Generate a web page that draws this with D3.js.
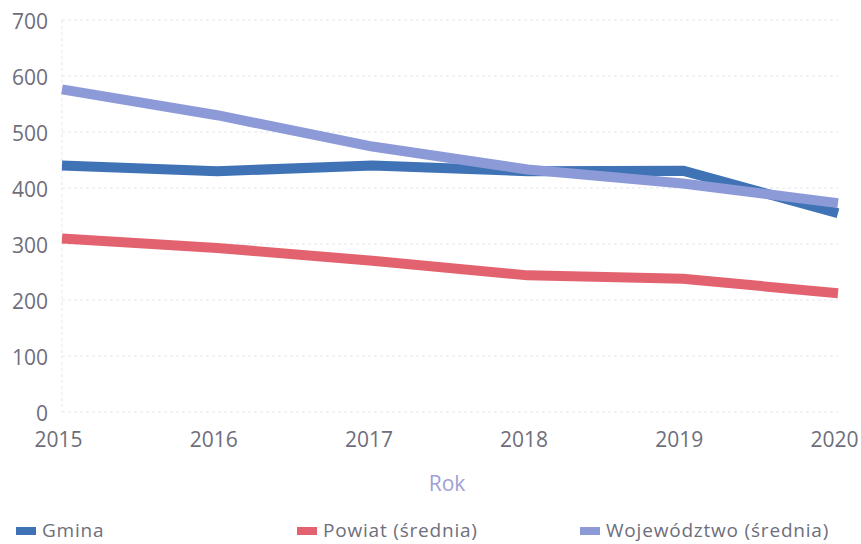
<!DOCTYPE html>
<html><head><meta charset="utf-8">
<script src="https://cdn.jsdelivr.net/npm/d3@7"></script>
<style>body{margin:0;background:#fff}svg{display:block}</style>
</head><body>
<svg id="c" width="861" height="544"></svg>
<script>
const years = [2015, 2016, 2017, 2018, 2019, 2020];
const gmina = [440, 430, 440, 430, 431, 355];
const powiat = [310, 293, 270, 244, 238, 212];
const wojewodztwo = [576, 530, 474, 433, 408, 373];
const yTicks = [0, 100, 200, 300, 400, 500, 600, 700];
const seriesNames = ["Gmina", "Powiat (średnia)", "Województwo (średnia)"];
const seriesColors = ["#3f73b5", "#e2636f", "#8d9ad8"];
const xTitle = "Rok";

const svg = d3.select("#c");
const font = "'Open Sans', sans-serif";
const textCol = "#6e6e7c";
const x = d3.scaleLinear().domain([2015, 2020]).range([62, 838]);
const y = d3.scaleLinear().domain([0, 700]).range([412, 20]);

// grid
svg.append("g").selectAll("line").data(yTicks).join("line")
  .attr("x1", 62).attr("x2", 838)
  .attr("y1", d => y(d)).attr("y2", d => y(d))
  .attr("stroke", "#e6e6ee").attr("stroke-width", 1).attr("stroke-dasharray", "3,3");
svg.append("line").attr("x1", 62).attr("x2", 62).attr("y1", y(700)).attr("y2", y(0))
  .attr("stroke", "#e6e6ee").attr("stroke-dasharray", "3,3");

// y axis
const ya = svg.append("g").attr("transform", "translate(48,2)")
  .call(d3.axisLeft(y).tickValues(yTicks).tickSize(0).tickPadding(0));
ya.select(".domain").remove();
ya.selectAll("text").attr("font-family", font).attr("font-size", 21).attr("fill", textCol);

// x axis
const xa = svg.append("g").attr("transform", "translate(-4,432)")
  .call(d3.axisBottom(x).tickValues(years).tickFormat(d3.format("d")).tickSize(0).tickPadding(0));
xa.select(".domain").remove();
xa.selectAll("text").attr("font-family", font).attr("font-size", 21).attr("fill", textCol);

svg.append("text").attr("x", 447).attr("y", 491).attr("text-anchor", "middle")
  .attr("font-family", font).attr("font-size", 21).attr("fill", "#9d9fd6").text(xTitle);

const data = [gmina, powiat, wojewodztwo];
const line = d3.line().x((d, i) => x(years[i])).y(d => y(d));
[0, 1, 2].forEach(k => {
  svg.append("path").datum(data[k]).attr("d", line)
    .attr("fill", "none").attr("stroke", seriesColors[k]).attr("stroke-width", 10)
    .attr("stroke-linejoin", "round");
});

// legend
const legX = [16, 297, 580];
const lg = svg.append("g");
seriesNames.forEach((n, i) => {
  lg.append("rect").attr("x", legX[i]).attr("y", 527).attr("width", 20).attr("height", 8)
    .attr("fill", seriesColors[i]);
  lg.append("text").attr("x", legX[i] + 26).attr("y", 537)
    .attr("font-family", font).attr("font-size", 19).attr("letter-spacing", 0.8)
    .attr("fill", textCol).text(n);
});
</script>
</body></html>
